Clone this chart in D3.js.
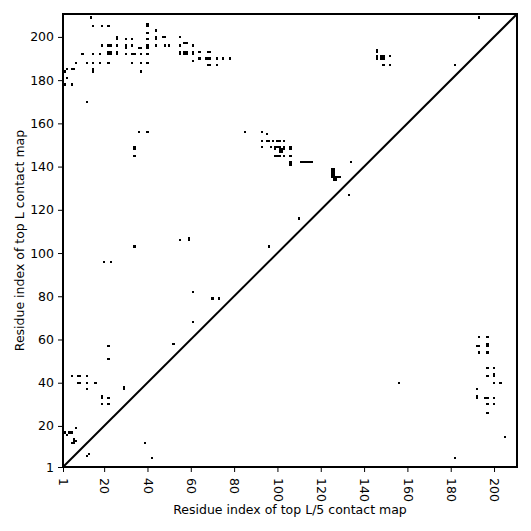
<!DOCTYPE html>
<html>
<head>
<meta charset="utf-8">
<script src="https://cdn.jsdelivr.net/npm/d3@7"></script>
<style>
  body { margin: 0; background: #fff; }
  text { font-family: "DejaVu Sans", sans-serif; fill: #000; }
</style>
</head>
<body>
<div id="chart"></div>
<script>
// sequence length and tick marks
var seqLen = 210;
var tickVals = [1, 20, 40, 60, 80, 100, 120, 140, 160, 180, 200];

// top L contacts (upper-left triangle), [i, j]
var topL = [
  [14,209],[15,205],[19,205],[22,205],[40,206],[40,205],[44,203],[40,202],
  [26,200],[26,199],[30,199],[33,199],[40,199],[44,200],[44,199],[47,200],[48,200],[55,200],
  [19,196],[22,196],[23,196],[26,196],[30,196],[30,195],[33,196],[36,195],[37,195],[40,196],
  [40,195],[44,196],[48,196],[50,196],[55,196],[57,197],[58,197],[61,196],
  [10,192],[15,192],[18,192],[22,193],[23,193],[22,192],[23,192],[26,193],[26,192],[30,192],
  [33,192],[34,192],[37,192],[40,192],[55,193],[55,192],[57,193],[58,193],[57,192],[58,192],
  [61,193],[61,192],
  [7,188],[12,188],[15,188],[18,188],[22,188],[33,188],[37,188],[40,188],[15,185],[15,184],[37,184],
  [3,185],[5,185],[6,185],[2,184],[3,181],[2,178],[5,178],[12,170],
  [64,193],[68,193],[69,193],[61,189],[64,190],[67,190],[68,190],[69,190],[72,190],[75,190],
  [78,190],[68,187],[69,187],[72,187],
  [146,194],[146,193],[146,191],[146,190],[148,191],[149,191],[148,190],[149,190],[152,191],
  [149,187],[152,187],[182,187],[193,209],
  [85,156],[93,156],[95,155],[36,156],[40,156],[34,149],[34,148],[34,145],
  [93,152],[95,152],[96,152],[98,152],[100,152],[101,152],[103,152],
  [93,149],[97,149],[99,149],[100,149],[101,149],[103,149],[106,149],[106,148],
  [101,148],[102,148],[103,148],[99,148],[101,147],[102,147],
  [99,145],[100,145],[101,145],[103,145],[106,145],
  [106,142],[106,141],[111,142],[112,142],[113,142],[114,142],[115,142],[116,142],
  [125,139],[125,138],[125,137],[125,136],[125,135],[126,139],[126,138],[126,137],[126,136],
  [126,135],[126,134],[127,134],[127,135],[128,135],[129,135],[134,142],[133,127],
  [110,116],[96,103],[55,106],[59,106],[59,107],[34,103],[20,96],[23,96],
  [61,82],[70,79],[73,79],[61,68],[52,58],[22,57],[22,51],
  [5,43],[8,43],[9,43],[12,43],[8,40],[9,40],[12,40],[16,40],[12,37],[29,38],[29,37],
  [19,34],[19,33],[22,33],[19,30],[22,30],
  [2,17],[4,17],[5,17],[7,19],[3,16],[6,14],[6,13],[5,12],[6,12],[7,13]
];

// top L/5 contacts (lower-right triangle), [i, j]
var topL5 = [
  [156,40],[193,61],[197,61],[192,57],[193,57],[197,58],[197,57],[193,54],[197,54],
  [197,47],[200,47],[197,43],[200,44],[200,43],[200,40],[203,40],[192,37],
  [192,34],[192,33],[196,33],[197,33],[200,33],[197,30],[200,30],[197,26],
  [205,15],[182,5],[13,7],[12,6],[39,12],[42,5]
];

var margin = {top: 14, right: 14, bottom: 64, left: 63},
    width = 454,
    height = 453;

var svg = d3.select("#chart").append("svg")
    .attr("width", 531).attr("height", 531);

var g = svg.append("g")
    .attr("transform", "translate(" + margin.left + "," + margin.top + ")");

var x = d3.scaleLinear().domain([1, seqLen + 0.6]).range([0, width]);
var y = d3.scaleLinear().domain([1, seqLen + 0.6]).range([height, 0]);

var cw = x(2) - x(1), ch = y(1) - y(2);

// contact cells
g.selectAll("rect.c")
    .data(topL.concat(topL5))
  .enter().append("rect")
    .attr("class", "c")
    .attr("x", function(d) { return x(d[0]) - cw / 2; })
    .attr("y", function(d) { return y(d[1]) - ch / 2; })
    .attr("width", cw)
    .attr("height", ch)
    .attr("fill", "#000")
    .attr("shape-rendering", "crispEdges");

// diagonal
g.append("line")
    .attr("x1", x(1)).attr("y1", y(1))
    .attr("x2", x(seqLen + 0.6)).attr("y2", y(seqLen + 0.6))
    .attr("stroke", "#000").attr("stroke-width", 2);

// axes
var xAxis = g.append("g")
    .attr("transform", "translate(0," + height + ")")
    .call(d3.axisBottom(x).tickValues(tickVals).tickSize(5).tickPadding(4));
xAxis.selectAll("text")
    .style("font-size", "12.5px")
    .attr("text-anchor", "start")
    .attr("transform", "rotate(90)")
    .attr("x", 11).attr("y", 0).attr("dy", "0.35em");

var yAxis = g.append("g")
    .call(d3.axisLeft(y).tickValues(tickVals).tickSize(5).tickPadding(4));
yAxis.selectAll("text").style("font-size", "12.5px");

[xAxis, yAxis].forEach(function(a) {
    a.select(".domain").remove();
    a.selectAll("line").attr("stroke", "#000");
});

// frame
g.append("rect")
    .attr("width", width).attr("height", height)
    .attr("fill", "none").attr("stroke", "#000").attr("stroke-width", 2);

// labels
svg.append("text")
    .attr("x", margin.left + width / 2).attr("y", 514)
    .attr("text-anchor", "middle").style("font-size", "12.5px")
    .text("Residue index of top L/5 contact map");

svg.append("text")
    .attr("transform", "translate(24," + (margin.top + height / 2) + ") rotate(-90)")
    .attr("text-anchor", "middle").style("font-size", "12.5px")
    .text("Residue index of top L contact map");
</script>
</body>
</html>
